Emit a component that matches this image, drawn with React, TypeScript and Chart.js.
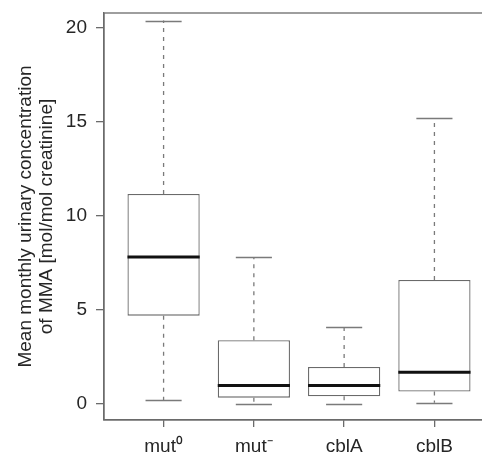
import React, { useEffect, useRef } from "react";
import { Chart, registerables } from "chart.js";

Chart.register(...registerables);

const categories = ["mut\u2070", "mut\u207B", "cblA", "cblB"];
const lowerWhisker = [0.21, 0.0, 0.0, 0.07];
const q1 = [4.7, 0.34, 0.41, 0.67];
const median = [7.82, 0.99, 0.99, 1.69];
const q3 = [11.17, 3.39, 1.97, 6.6];
const upperWhisker = [20.4, 7.82, 4.11, 15.19];
const yTicks = [0, 5, 10, 15, 20];
const yTitle = ["Mean monthly urinary concentration", "of MMA [mol/mol creatinine]"];

const FONT = "'Liberation Sans', Arial, Helvetica, sans-serif";
const TEXT = "#262626";
const AXIS = "#6b6b6b";

const boxPlugin = {
  id: "boxParts",
  beforeDatasetsDraw(chart: any) {
    const { ctx, scales } = chart;
    const xs = scales.x;
    const ys = scales.y;
    ctx.save();
    ctx.strokeStyle = "#7a7a7a";
    ctx.lineWidth = 1.3;
    categories.forEach((_, i) => {
      const cx = xs.getPixelForValue(i + 1);
      const half = (xs.getPixelForValue(2) - xs.getPixelForValue(1)) * 0.2;
      ctx.setLineDash([4, 5]);
      ctx.beginPath();
      ctx.moveTo(cx, ys.getPixelForValue(q3[i]));
      ctx.lineTo(cx, ys.getPixelForValue(upperWhisker[i]));
      ctx.moveTo(cx, ys.getPixelForValue(q1[i]));
      ctx.lineTo(cx, ys.getPixelForValue(lowerWhisker[i]));
      ctx.stroke();
      ctx.setLineDash([]);
      ctx.beginPath();
      const yu = Math.round(ys.getPixelForValue(upperWhisker[i])) + 0.5;
      const yl = Math.round(ys.getPixelForValue(lowerWhisker[i])) + 0.5;
      ctx.moveTo(cx - half, yu);
      ctx.lineTo(cx + half, yu);
      ctx.moveTo(cx - half, yl);
      ctx.lineTo(cx + half, yl);
      ctx.stroke();
    });
    ctx.restore();
  },
  afterDatasetsDraw(chart: any) {
    const { ctx, scales, chartArea } = chart;
    const xs = scales.x;
    const ys = scales.y;
    ctx.save();
    ctx.strokeStyle = "#111";
    ctx.lineWidth = 3;
    categories.forEach((_, i) => {
      const cx = xs.getPixelForValue(i + 1);
      const half = (xs.getPixelForValue(2) - xs.getPixelForValue(1)) * 0.4;
      const y = ys.getPixelForValue(median[i]);
      ctx.beginPath();
      ctx.moveTo(cx - half, y);
      ctx.lineTo(cx + half, y);
      ctx.stroke();
    });
    ctx.strokeStyle = AXIS;
    ctx.lineWidth = 1.3;
    ctx.strokeRect(chartArea.left, chartArea.top, chartArea.right - chartArea.left, chartArea.bottom - chartArea.top);
    ctx.restore();
  },
};

export default function App() {
  const ref = useRef<HTMLCanvasElement | null>(null);
  useEffect(() => {
    if (!ref.current) return;
    const chart = new Chart(ref.current, {
      type: "bar",
      data: {
        datasets: [
          {
            data: categories.map((_, i) => ({ x: i + 1, y: [q1[i], q3[i]] })) as any,
            backgroundColor: "#ffffff",
            borderColor: "#6a6a6a",
            borderWidth: 1.3,
            borderSkipped: false,
            barPercentage: 0.8,
            categoryPercentage: 1,
          },
        ],
      },
      options: {
        animation: false,
        responsive: true,
        maintainAspectRatio: false,
        devicePixelRatio: 1,
        layout: { padding: { top: 13, right: 6, left: 0, bottom: 0 } },
        plugins: { legend: { display: false }, tooltip: { enabled: false } },
        scales: {
          x: {
            type: "linear",
            offset: false,
            min: 0.34,
            max: 4.66,
            afterBuildTicks: (s: any) => {
              s.ticks = categories.map((_, i) => ({ value: i + 1 }));
            },
            afterFit: (s: any) => {
              s.height = 36;
              s.paddingLeft = 0;
              s.paddingRight = 0;
            },
            grid: { display: true, offset: false, drawOnChartArea: false, drawTicks: true, tickLength: 7, color: AXIS, lineWidth: 1.3 },
            border: { display: true, color: AXIS, width: 1.3 },
            ticks: {
              autoSkip: false,
              maxRotation: 0,
              padding: 8,
              color: TEXT,
              font: { family: FONT, size: 19 },
              callback: (v: any) => categories[Math.round(Number(v)) - 1] ?? "",
            },
          },
          y: {
            type: "linear",
            min: -0.85,
            max: 20.8,
            afterBuildTicks: (s: any) => {
              s.ticks = yTicks.map((v) => ({ value: v }));
            },
            afterFit: (s: any) => {
              s.width = 104;
              s.paddingTop = 0;
              s.paddingBottom = 0;
            },
            grid: { display: true, drawOnChartArea: false, drawTicks: true, tickLength: 8, color: AXIS, lineWidth: 1.3 },
            border: { display: true, color: AXIS, width: 1.3 },
            ticks: {
              padding: 9,
              color: TEXT,
              font: { family: FONT, size: 19 },
            },
            title: {
              display: true,
              text: yTitle,
              color: TEXT,
              font: { family: FONT, size: 19, lineHeight: 1.1 },
              padding: { top: 15, bottom: 0 },
            },
          },
        },
      },
      plugins: [boxPlugin],
    });
    return () => chart.destroy();
  }, []);
  return (
    <div style={{ position: "fixed", left: 0, top: 0, width: 500, height: 456, background: "#fff" }}>
      <canvas ref={ref} />
    </div>
  );
}
